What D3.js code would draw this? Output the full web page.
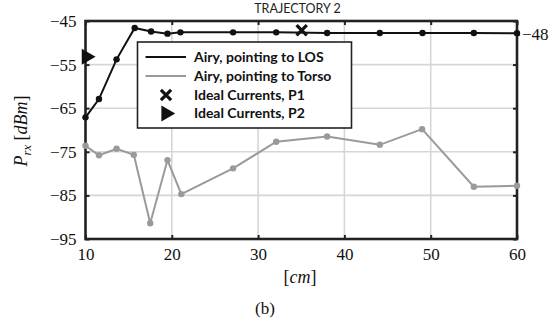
<!DOCTYPE html>
<html><head><meta charset="utf-8">
<script src="https://cdn.jsdelivr.net/npm/d3@7"></script>
<style>body{margin:0;background:#fff;} svg{display:block;}</style>
</head><body>
<svg id="c" width="558" height="325"></svg>
<script>
const losX = [10, 11.56, 13.6, 15.7, 17.6, 19.5, 21, 27.1, 32.1, 38, 44.1, 49.05, 55, 60];
const losY = [-67.1, -62.9, -53.8, -46.6, -47.4, -47.9, -47.6, -47.6, -47.6, -47.75, -47.75, -47.75, -47.75, -47.8];
const torsoX = [10, 11.56, 13.6, 15.6, 17.5, 19.5, 21.1, 27.1, 32.1, 38, 44.1, 49, 55, 60];
const torsoY = [-73.6, -75.8, -74.3, -75.7, -91.4, -76.9, -84.7, -78.8, -72.7, -71.5, -73.4, -69.8, -83.0, -82.8];
const p1 = [[35.05, -47.1]];
const p2 = [[10.1, -53.2]];
const xTicks = [10, 20, 30, 40, 50, 60];
const yTicks = [-95, -85, -75, -65, -55, -45];
const rightTicks = [-48];
const legendLabels = ["Airy, pointing to LOS", "Airy, pointing to Torso", "Ideal Currents, P1", "Ideal Currents, P2"];
const title = "TRAJECTORY 2";

const svg = d3.select("#c");
const x = d3.scaleLinear().domain([10, 60]).range([85.5, 517]);
const y = d3.scaleLinear().domain([-95, -45]).range([239, 21]);
const L = x.range()[0], R = x.range()[1], T = y.range()[1], B = y.range()[0];

// grid
const g = svg.append("g");
g.selectAll(".gx").data(xTicks.slice(1, -1)).join("line")
  .attr("x1", d => x(d)).attr("x2", d => x(d)).attr("y1", T).attr("y2", B)
  .attr("stroke", "#d6d6d6").attr("stroke-width", 1.6);
g.selectAll(".gy").data(yTicks.slice(1, -1)).join("line")
  .attr("y1", d => y(d)).attr("y2", d => y(d)).attr("x1", L).attr("x2", R)
  .attr("stroke", "#d6d6d6").attr("stroke-width", 1.6);

// axes
const serif = "'Liberation Serif', 'DejaVu Serif', serif";
const ax = svg.append("g").attr("transform", `translate(0,${B})`)
  .call(d3.axisBottom(x).tickValues(xTicks).tickSize(-4).tickPadding(9).tickFormat(d3.format("d")));
const ay = svg.append("g").attr("transform", `translate(${L},0)`)
  .call(d3.axisLeft(y).tickValues(yTicks).tickSize(-4).tickPadding(9).tickFormat(d => "\u2212" + Math.abs(d)));
const at = svg.append("g").attr("transform", `translate(0,${T})`)
  .call(d3.axisTop(x).tickValues(xTicks).tickSize(-4).tickFormat(""));
const ar = svg.append("g").attr("transform", `translate(${R},0)`)
  .call(d3.axisRight(y).tickValues(yTicks).tickSize(-4).tickFormat(""));
const ar2 = svg.append("g").attr("transform", `translate(${R},0)`)
  .call(d3.axisRight(y).tickValues(rightTicks).tickSize(3).tickPadding(2).tickFormat(d => "\u2212" + Math.abs(d)));
[ax, ay, at, ar, ar2].forEach(a => {
  a.select(".domain").remove();
  a.selectAll(".tick line").attr("stroke", "#222").attr("stroke-width", 2);
  a.selectAll("text").attr("fill", "#111").style("font-family", serif).style("font-size", "17px");
});

// frame
svg.append("rect").attr("x", L).attr("y", T).attr("width", R - L).attr("height", B - T)
  .attr("fill", "none").attr("stroke", "#222").attr("stroke-width", 2.6);

// series
const line = d3.line().x(d => x(d[0])).y(d => y(d[1]));
const torso = torsoX.map((v, i) => [v, torsoY[i]]);
const los = losX.map((v, i) => [v, losY[i]]);
svg.append("path").datum(torso).attr("d", line).attr("fill", "none").attr("stroke", "#9a9a9a").attr("stroke-width", 2);
svg.selectAll(".tm").data(torso).join("circle").attr("cx", d => x(d[0])).attr("cy", d => y(d[1])).attr("r", 3.2).attr("fill", "#9a9a9a");
svg.append("path").datum(los).attr("d", line).attr("fill", "none").attr("stroke", "#111").attr("stroke-width", 2);
svg.selectAll(".lm").data(los).join("circle").attr("cx", d => x(d[0])).attr("cy", d => y(d[1])).attr("r", 3.2).attr("fill", "#111");

const cross = d3.symbol().type(d3.symbolX).size(70);
const tri = d3.symbol().type(d3.symbolTriangle).size(110);
svg.selectAll(".p1").data(p1).join("path").attr("d", cross)
  .attr("transform", d => `translate(${x(d[0])},${y(d[1])})`).attr("stroke", "#111").attr("stroke-width", 3.2).attr("fill", "none");
svg.selectAll(".p2").data(p2).join("path").attr("d", tri)
  .attr("transform", d => `translate(${x(d[0])},${y(d[1])}) rotate(90)`).attr("fill", "#111");

// legend
const sans = "Lato, 'Open Sans', sans-serif";
const lg = svg.append("g");
lg.append("rect").attr("x", 137.5).attr("y", 42).attr("width", 214).attr("height", 86)
  .attr("fill", "#fff").attr("stroke", "#222").attr("stroke-width", 1.6);
const ly = [57, 76, 95, 113.5];
lg.append("line").attr("x1", 145.5).attr("x2", 186).attr("y1", ly[0]).attr("y2", ly[0]).attr("stroke", "#111").attr("stroke-width", 2);
lg.append("line").attr("x1", 145.5).attr("x2", 186).attr("y1", ly[1]).attr("y2", ly[1]).attr("stroke", "#9a9a9a").attr("stroke-width", 2);
lg.append("path").attr("d", cross).attr("transform", `translate(166,${ly[2]})`).attr("stroke", "#111").attr("stroke-width", 3.2).attr("fill", "none");
lg.append("path").attr("d", tri).attr("transform", `translate(166,${ly[3]}) rotate(90)`).attr("fill", "#111");
lg.selectAll(".lt").data(legendLabels).join("text")
  .attr("x", 194).attr("y", (d, i) => ly[i]).attr("dy", "0.35em")
  .style("font-family", sans).style("font-weight", "bold").style("font-size", "14px").attr("fill", "#111")
  .text(d => d);

// title & labels
svg.append("text").attr("x", 297.5).attr("y", 13).attr("text-anchor", "middle")
  .style("font-family", sans).style("font-size", "12.5px").attr("fill", "#222").text(title);

const xl = svg.append("text").attr("x", 300).attr("y", 283).attr("text-anchor", "middle")
  .style("font-family", serif).style("font-size", "18px").attr("fill", "#111");
xl.append("tspan").text("[");
xl.append("tspan").style("font-style", "italic").text("cm");
xl.append("tspan").text("]");

const yl = svg.append("text").attr("transform", "translate(27,131) rotate(-90)").attr("text-anchor", "middle")
  .style("font-family", serif).style("font-size", "18px").attr("fill", "#111");
yl.append("tspan").style("font-style", "italic").text("P");
yl.append("tspan").style("font-style", "italic").style("font-size", "12.5px").attr("dy", 4).text("rx");
yl.append("tspan").attr("dy", -4).text(" [");
yl.append("tspan").style("font-style", "italic").text("dBm");
yl.append("tspan").text("]");

svg.append("text").attr("x", 265).attr("y", 314).attr("text-anchor", "middle")
  .style("font-family", serif).style("font-size", "17px").attr("fill", "#111").text("(b)");
</script>
</body></html>
